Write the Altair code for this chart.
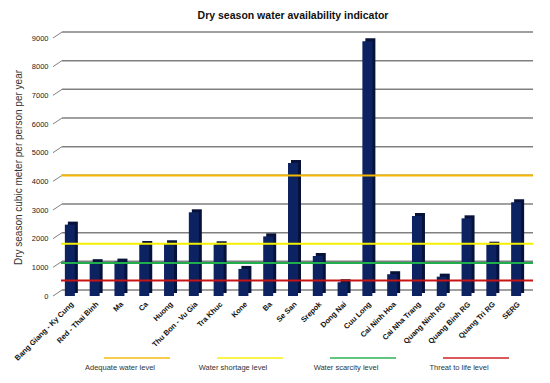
import altair as alt
import pandas as pd

basins = ["Bang Giang - Ky Cung", "Red - Thai Binh", "Ma", "Ca", "Huong",
          "Thu Bon - Vu Gia", "Tra Khuc", "Kone", "Ba", "Se San", "Srepok",
          "Dong Nai", "Cuu Long", "Cai Ninh Hoa", "Cai Nha Trang",
          "Quang Ninh RG", "Quang Binh RG", "Quang Tri RG", "SERG"]
water = [2490, 1180, 1200, 1815, 1840, 2920, 1805, 945, 2080, 4640, 1395,
         480, 8890, 760, 2790, 675, 2710, 1790, 3270]

levels = ["Adequate water level", "Water shortage level",
          "Water scarcity level", "Threat to life level"]
level_values = [4200, 1820, 1150, 540]
level_colors = ["#f5b700", "#f5f000", "#1fae4b", "#c81414"]

y_ticks = [0, 1000, 2000, 3000, 4000, 5000, 6000, 7000, 8000, 9000]

bars_df = pd.DataFrame({"basin": basins, "value": water})
lev_df = pd.DataFrame({"level": levels, "value": level_values})
grid_df = pd.DataFrame({"v": y_ticks})

W, H = 480, 258
FONT = "Liberation Sans"

xscale = alt.Scale(domain=basins, paddingInner=0.52, paddingOuter=0.44)
yscale = alt.Scale(domain=[0, 9000], nice=False)
cscale = alt.Scale(domain=levels, range=level_colors)

yaxis = alt.Axis(values=y_ticks, grid=False, ticks=False, domain=False,
                 format="d", labelOverlap=False,
                 labelFontSize=7.5, labelColor="#222", labelPadding=5,
                 title="Dry season cubic meter per person per year",
                 titleFontSize=10, titleFontWeight="normal", titleColor="#333",
                 titlePadding=8, labelFont=FONT, titleFont=FONT)
xaxis = alt.Axis(labelAngle=-45, ticks=False, domain=False, title=None,
                 labelFontSize=7.5, labelFontWeight="bold", labelColor="#111",
                 labelPadding=4, labelFont=FONT, labelAlign="right",
                 labelBaseline="top", labelOverlap=False)

grid = alt.Chart(grid_df).mark_rule(color="#808080", strokeWidth=1.5,
                                    yOffset=-6).encode(
    y=alt.Y("v:Q", scale=yscale, axis=yaxis),
    x=alt.value(9), x2=alt.value(W),
)
diag = alt.Chart(grid_df).mark_rule(color="#808080", strokeWidth=1,
                                    y2Offset=-6).encode(
    y=alt.Y("v:Q", scale=yscale, axis=yaxis),
    y2="v:Q",
    x=alt.value(0), x2=alt.value(9),
)

depth = alt.Chart(bars_df).mark_bar(color="#06123a", width=10,
                                    xOffset=3, yOffset=-3).encode(
    x=alt.X("basin:N", scale=xscale, axis=xaxis, sort=basins),
    y=alt.Y("value:Q", scale=yscale, axis=yaxis),
)
front = alt.Chart(bars_df).mark_bar(color="#0d2361", width=10).encode(
    x=alt.X("basin:N", scale=xscale, sort=basins, axis=xaxis),
    y=alt.Y("value:Q", scale=yscale, axis=yaxis),
)

lines = alt.Chart(lev_df).mark_rule(strokeWidth=2).encode(
    y=alt.Y("value:Q", scale=yscale, axis=yaxis),
    x=alt.value(8), x2=alt.value(W),
    color=alt.Color("level:N", scale=cscale, legend=None),
)

lx = alt.Scale(type="point", domain=levels, range=[84, 423], padding=0)
leg_line = alt.Chart(lev_df).mark_tick(orient="horizontal", size=66,
                                       thickness=2).encode(
    x=alt.X("level:N", scale=lx, axis=None),
    y=alt.value(H + 62),
    color=alt.Color("level:N", scale=cscale, legend=None),
)
leg_text = alt.Chart(lev_df).mark_text(fontSize=7.5, color="#333", dx=-17,
                                       baseline="middle", font=FONT).encode(
    x=alt.X("level:N", scale=lx, axis=None),
    y=alt.value(H + 72),
    text="level:N",
)

main = alt.layer(grid, diag, depth, front, lines)
legend = alt.layer(leg_line, leg_text)

chart = alt.layer(main, legend).resolve_scale(
    x="independent"
).properties(
    width=W, height=H,
    padding={"left": 5, "right": 5, "top": 2, "bottom": 0},
    title=alt.TitleParams("Dry season water availability indicator",
                          fontSize=10.5, fontWeight="bold", font=FONT,
                          color="#111", offset=10, anchor="middle"),
).configure(background="white").configure_view(stroke=None)

chart.save("out.html", embed_options={"renderer": "svg", "actions": False})
